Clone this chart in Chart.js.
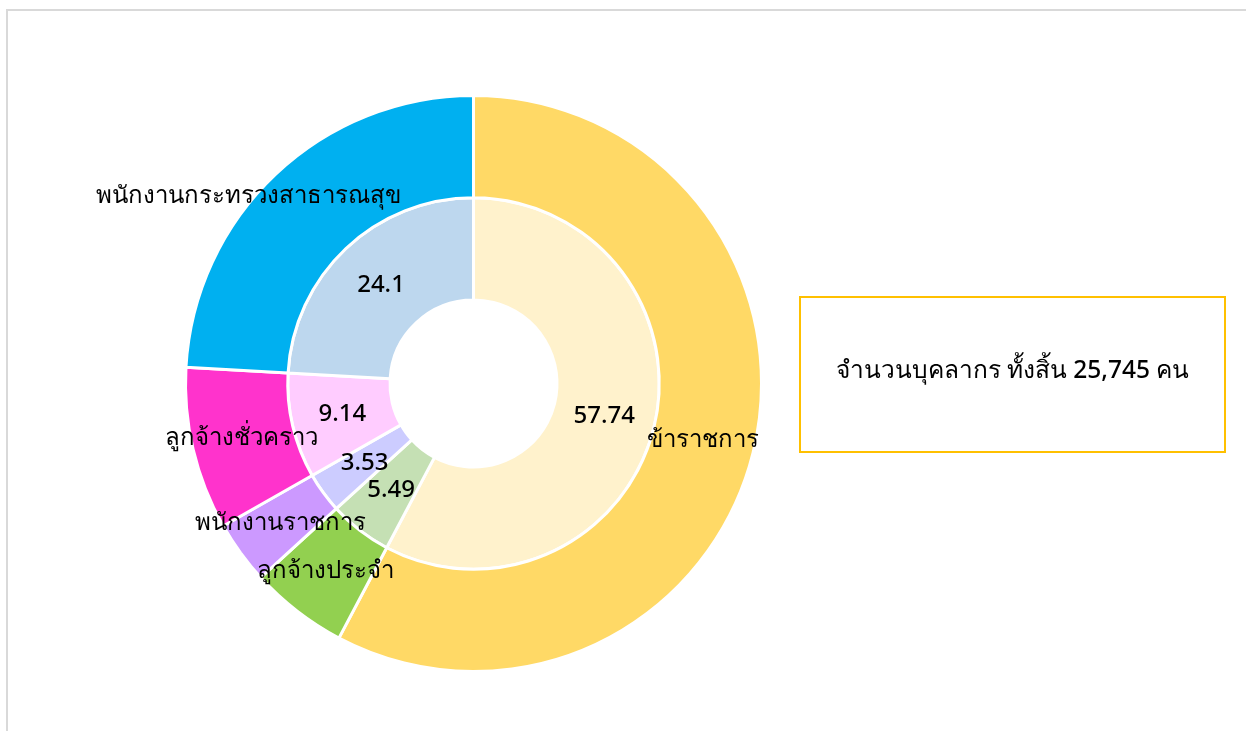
<!DOCTYPE html>
<html>
<head>
<meta charset="utf-8">
<script src="https://cdn.jsdelivr.net/npm/chart.js@4.4.0/dist/chart.umd.min.js"></script>
<style>
  html, body { margin: 0; padding: 0; background: #fff; overflow: hidden; }
  body { width: 1246px; height: 731px; position: relative; font-family: Tahoma, "Noto Sans", sans-serif; }
  .frame { position: absolute; left: 6px; top: 9px; width: 1260px; height: 760px;
           border-top: 2px solid #d9d9d9; border-left: 2px solid #d9d9d9; }
  .wrap { position: absolute; left: 0; top: 0; width: 1246px; height: 731px; }
  .note { position: absolute; left: 799px; top: 296px; width: 427px; height: 157px;
          border: 2px solid #FFC000; display: flex; align-items: center; justify-content: center;
          font-size: 24.5px; font-weight: 500; color: #000; padding-bottom: 10px; box-sizing: border-box; }
</style>
</head>
<body>
<div class="frame"></div>
<div class="wrap"><canvas id="c" width="1246" height="731"></canvas></div>
<div class="note">จำนวนบุคลากร ทั้งสิ้น 25,745 คน</div>
<script>
const categories = ['ข้าราชการ', 'ลูกจ้างประจำ', 'พนักงานราชการ', 'ลูกจ้างชั่วคราว', 'พนักงานกระทรวงสาธารณสุข'];
const percentValues = [57.74, 5.49, 3.53, 9.14, 24.1];
const outerColors = ['#FFD966', '#92D050', '#CC99FF', '#FF33CC', '#00B0F0'];
const innerColors = ['#FFF2CC', '#C5E0B4', '#CCCCFF', '#FFCCFF', '#BDD7EE'];

// small nudges for the outer labels (Excel moved the long one off the arc)
const outerNudge = [[0, 0], [-3, 0], [-1, 0], [-1, 1], [-62, -15]];

const labelPlugin = {
  id: 'ringLabels',
  afterDatasetsDraw(chart) {
    const ctx = chart.ctx;
    ctx.save();
    ctx.font = '500 24px Tahoma, "Noto Sans", sans-serif';
    ctx.fillStyle = '#000';
    ctx.textAlign = 'center';
    ctx.textBaseline = 'middle';
    chart.getDatasetMeta(0).data.forEach((arc, i) => {
      const p = arc.tooltipPosition();
      ctx.fillText(categories[i], p.x + outerNudge[i][0], p.y + outerNudge[i][1]);
    });
    chart.getDatasetMeta(1).data.forEach((arc, i) => {
      const p = arc.tooltipPosition();
      ctx.fillText(String(percentValues[i]), p.x, p.y);
    });
    ctx.restore();
  }
};

new Chart(document.getElementById('c'), {
  type: 'doughnut',
  data: {
    labels: categories,
    datasets: [
      { data: percentValues, backgroundColor: outerColors, borderColor: '#fff', borderWidth: 3 },
      { data: percentValues, backgroundColor: innerColors, borderColor: '#fff', borderWidth: 3 }
    ]
  },
  options: {
    responsive: false,
    animation: false,
    cutout: '29%',
    layout: { padding: { left: 184, right: 483, top: 94, bottom: 58 } },
    plugins: { legend: { display: false }, tooltip: { enabled: false } }
  },
  plugins: [labelPlugin]
});
</script>
</body>
</html>
